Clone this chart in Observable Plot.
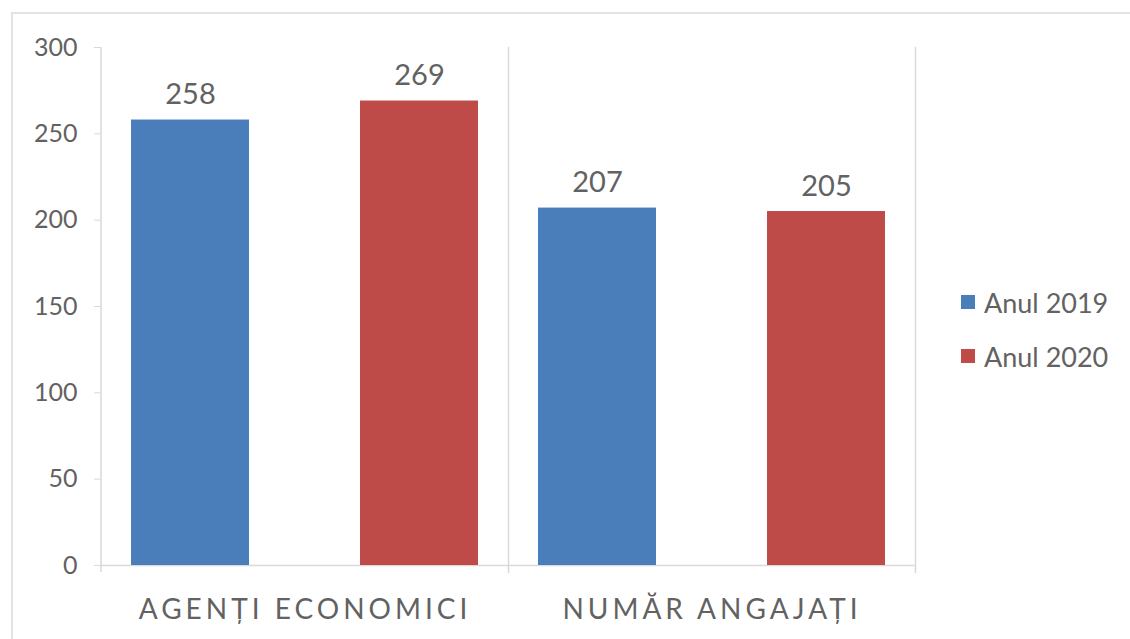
<!DOCTYPE html>
<html>
<head>
<meta charset="utf-8">
<script src="https://cdn.jsdelivr.net/npm/d3@7"></script>
<script src="https://cdn.jsdelivr.net/npm/@observablehq/plot@0.6"></script>
<style>
  html, body { margin: 0; padding: 0; background: #fff; width: 1130px; height: 639px; overflow: hidden; }
  #wrap { position: relative; width: 1130px; height: 639px; font-family: Lato, "Noto Sans", sans-serif; }
  #border { position: absolute; left: 11px; top: 12px; width: 1140px; height: 650px; border: 2px solid #e3e3e3; box-sizing: border-box; }
  #chart { position: absolute; left: 0; top: 0; }
  #legend { position: absolute; left: 961px; top: 283px; color: #626262; font-size: 27px; }
  .item { display: flex; align-items: center; height: 38px; margin-bottom: 16px; }
  .sw { width: 14px; height: 14px; margin-right: 9px; }
</style>
</head>
<body>
<div id="wrap">
  <div id="border"></div>
  <div id="chart"></div>
  <div id="legend"></div>
</div>
<script>
const groups = ["AGENȚI ECONOMICI", "NUMĂR ANGAJAȚI"];
const series = ["Anul 2019", "Anul 2020"];
const values2019 = [258, 207];
const values2020 = [269, 205];
const yTicks = [0, 50, 100, 150, 200, 250, 300];
const colors = ["#4a7ebb", "#be4b48"];

const data = [];
groups.forEach((g, i) => {
  data.push({group: g, series: series[0], value: values2019[i]});
  data.push({group: g, series: series[1], value: values2020[i]});
});

const textColor = "#626262";
const lineColor = "#d9d9d9";

const plot = Plot.plot({
  width: 1130,
  height: 639,
  marginLeft: 101,
  marginRight: 215,
  marginTop: 47,
  marginBottom: 74,
  style: {fontFamily: "Lato, 'Noto Sans', sans-serif", color: textColor, background: "transparent"},
  fx: {domain: groups, padding: 0, label: null, axis: null},
  x: {domain: series, paddingInner: 0.485, paddingOuter: 0.13, axis: null},
  y: {domain: [0, 300], axis: null},
  color: {domain: series, range: colors},
  marks: [
    Plot.frame({anchor: "right", stroke: lineColor, strokeWidth: 1.5, insetBottom: -7}),
    Plot.ruleY([0], {stroke: lineColor, strokeWidth: 1.5}),
    Plot.axisY({
      ticks: yTicks, tickSize: 7, tickPadding: 17, fontSize: 25, stroke: lineColor,
      fill: textColor, tickFormat: d => d, label: null
    }),
    Plot.axisFx({
      anchor: "bottom", tickSize: 0, tickPadding: 34, fontSize: 28,
      fill: textColor, label: null
    }),
    Plot.barY(data, {fx: "group", x: "series", y: "value", fill: "series"}),
    Plot.text(data, {
      fx: "group", x: "series", y: "value", text: d => String(d.value),
      dy: -16, lineAnchor: "bottom", fontSize: 29, fill: textColor
    })
  ]
});

document.getElementById("chart").appendChild(plot);

// y-axis line along the left edge of the plot area
const svg = d3.select(plot);
svg.append("line")
  .attr("x1", 101).attr("x2", 101)
  .attr("y1", 47).attr("y2", 572)
  .attr("stroke", lineColor).attr("stroke-width", 1.5);

// letter-spacing for category labels
svg.selectAll("[aria-label='fx-axis tick label'] text, [aria-label='fx-axis tick label']")
  .style("letter-spacing", "4px");

const legend = document.getElementById("legend");
series.forEach((s, i) => {
  const item = document.createElement("div");
  item.className = "item";
  const sw = document.createElement("span");
  sw.className = "sw";
  sw.style.background = colors[i];
  const t = document.createElement("span");
  t.textContent = s;
  item.appendChild(sw);
  item.appendChild(t);
  legend.appendChild(item);
});
</script>
</body>
</html>
